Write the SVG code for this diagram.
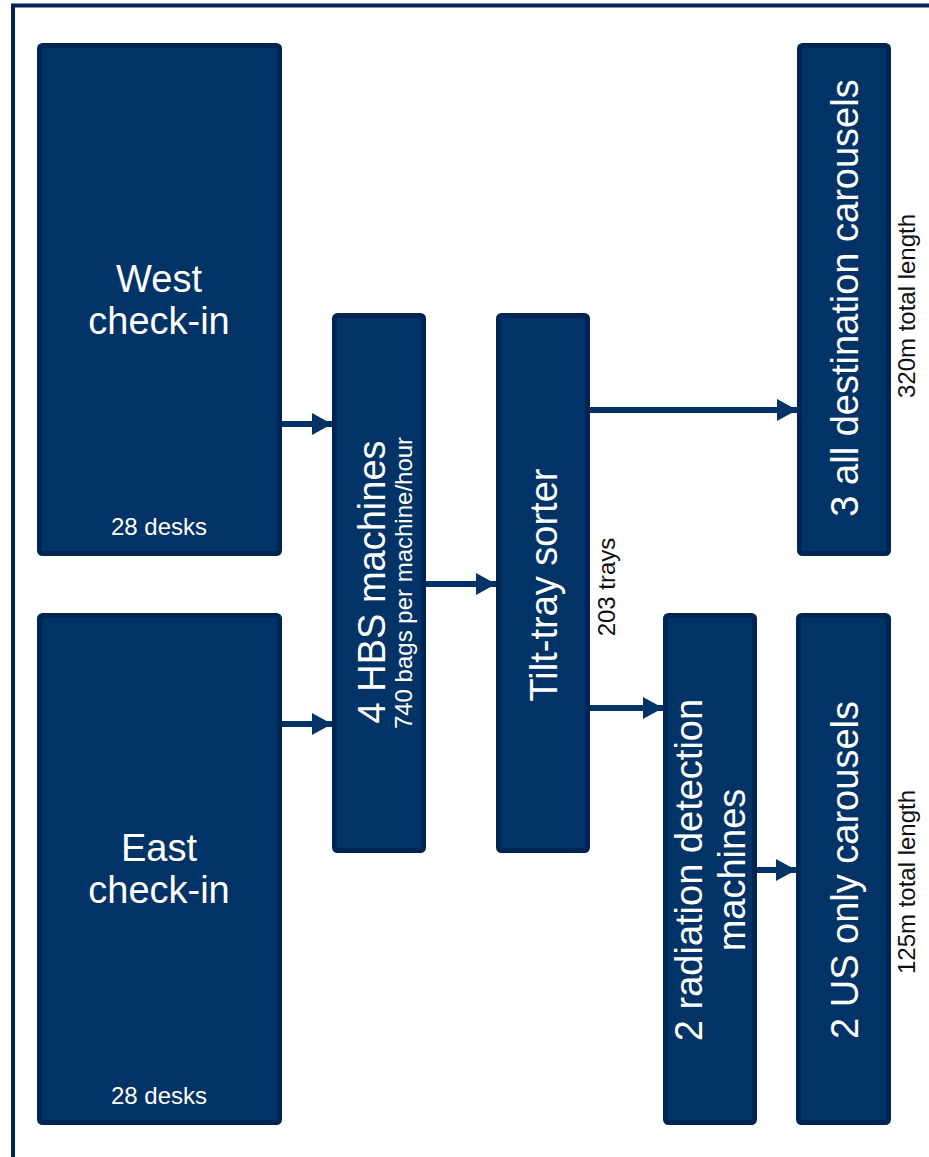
<svg xmlns="http://www.w3.org/2000/svg" width="929" height="1157" viewBox="0 0 929 1157">
  <defs>
    <style>
      .box { fill: #023366; stroke: #012552; stroke-width: 5; }
      .big { font-family: "Liberation Sans", Arial, sans-serif; fill: #ffffff; font-size: 38px; text-anchor: middle; }
      .sub { font-family: "Liberation Sans", Arial, sans-serif; fill: #ffffff; font-size: 24px; text-anchor: middle; }
      .note { font-family: "Liberation Sans", Arial, sans-serif; fill: #111111; font-size: 24px; text-anchor: middle; }
      .link { stroke: #023366; stroke-width: 6; fill: none; marker-end: url(#head); }
    </style>
    <marker id="head" viewBox="0 0 20 22" refX="20" refY="11" markerWidth="20" markerHeight="22" markerUnits="userSpaceOnUse" orient="auto">
      <path d="M0,0 L20,11 L0,22 z" fill="#023366"/>
    </marker>
  </defs>

  <rect width="929" height="1157" fill="#ffffff"/>
  <!-- frame -->
  <path d="M13,1157 V5.5 H929" fill="none" stroke="#012552" stroke-width="4"/>

  <g id="connectors">
    <line class="link" x1="282" y1="424" x2="332" y2="424"/>
    <line class="link" x1="282" y1="724" x2="332" y2="724"/>
    <line class="link" x1="426" y1="584" x2="496" y2="584"/>
    <line class="link" x1="590" y1="410" x2="797" y2="410"/>
    <line class="link" x1="590" y1="708" x2="663" y2="708"/>
    <line class="link" x1="757" y1="870" x2="796" y2="870"/>
  </g>

  <g id="west">
    <rect class="box" x="39.5" y="45.5" width="240" height="508" rx="3"/>
    <text class="big" x="159" y="292">West</text>
    <text class="big" x="159" y="334">check-in</text>
    <text class="sub" x="159" y="535">28 desks</text>
  </g>

  <g id="east">
    <rect class="box" x="39.5" y="615.5" width="240" height="507" rx="3"/>
    <text class="big" x="159" y="861">East</text>
    <text class="big" x="159" y="903">check-in</text>
    <text class="sub" x="159" y="1104">28 desks</text>
  </g>

  <g id="hbs">
    <rect class="box" x="334.5" y="315.5" width="89" height="535" rx="3"/>
    <text class="big" transform="translate(385,582) rotate(-90)">4 HBS machines</text>
    <text class="sub" transform="translate(412,583) rotate(-90)">740 bags per machine/hour</text>
  </g>

  <g id="sorter">
    <rect class="box" x="498.5" y="315.5" width="89" height="535" rx="3"/>
    <text class="big" transform="translate(557,585) rotate(-90)">Tilt-tray sorter</text>
    <text class="note" transform="translate(615,587) rotate(-90)">203 trays</text>
  </g>

  <g id="all-destination">
    <rect class="box" x="799.5" y="45.5" width="89" height="508" rx="3"/>
    <text class="big" transform="translate(858,298) rotate(-90)">3 all destination carousels</text>
    <text class="note" transform="translate(915,306) rotate(-90)">320m total length</text>
  </g>

  <g id="radiation">
    <rect class="box" x="665.5" y="615.5" width="89" height="507" rx="3"/>
    <text class="big" transform="translate(702,870) rotate(-90)">2 radiation detection</text>
    <text class="big" transform="translate(745,870) rotate(-90)">machines</text>
  </g>

  <g id="us-only">
    <rect class="box" x="798.5" y="615.5" width="90" height="507" rx="3"/>
    <text class="big" transform="translate(858,870) rotate(-90)">2 US only carousels</text>
    <text class="note" transform="translate(915,882) rotate(-90)">125m total length</text>
  </g>
</svg>
